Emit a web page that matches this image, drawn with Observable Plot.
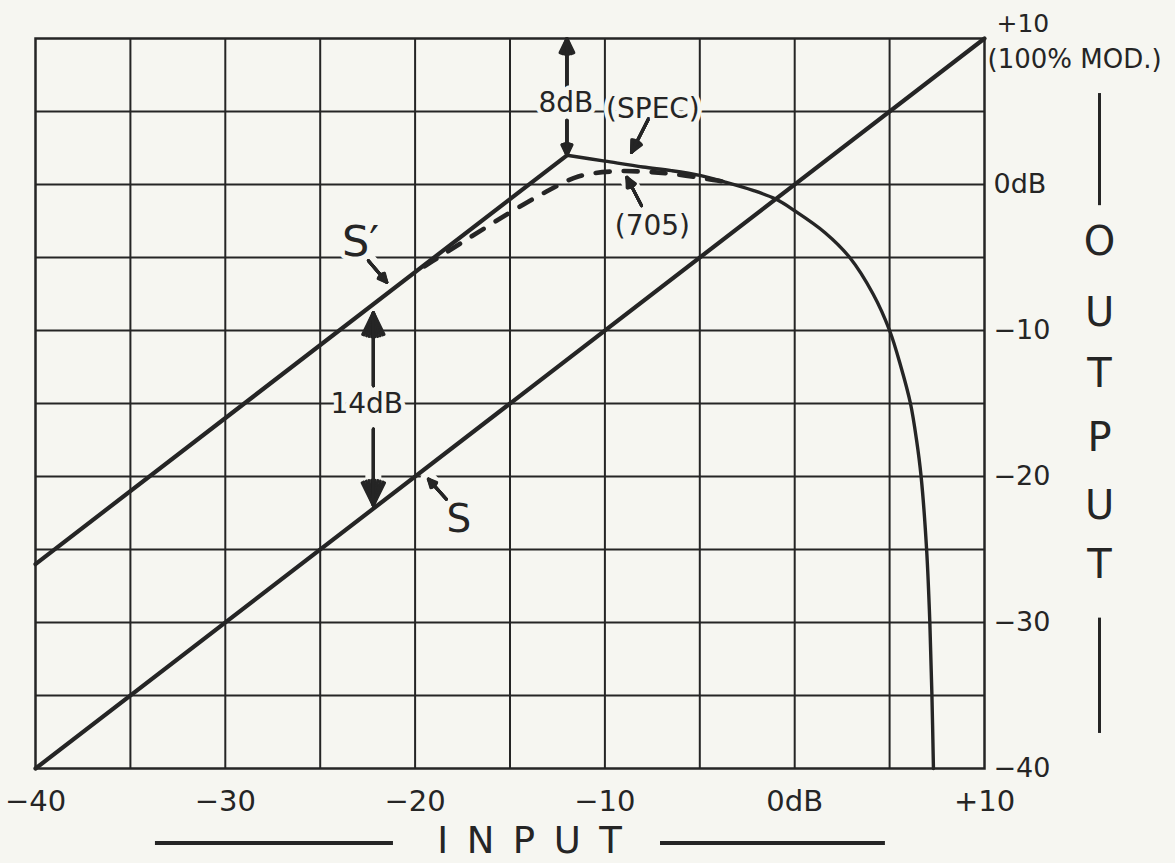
<!DOCTYPE html>
<html>
<head>
<meta charset="utf-8">
<script src="https://cdn.jsdelivr.net/npm/d3@7"></script>
<script src="https://cdn.jsdelivr.net/npm/@observablehq/plot@0.6"></script>
<style>
  html, body { margin: 0; padding: 0; background: #f6f6f1; }
</style>
</head>
<body>
<div id="chart"></div>
<script>
// ---------------- data ----------------
const xTicks = [-40, -30, -20, -10, 0, 10];
const xTickLabels = ["−40", "−30", "−20", "−10", "0dB", "+10"];
const yTicks = [-40, -30, -20, -10, 0];
const yTickLabels = ["−40", "−30", "−20", "−10", "0dB"];
const topLabels = ["+10", "(100% MOD.)"];
const topLabelY = [10.96, 8.56];
const gridX = [-35, -30, -25, -20, -15, -10, -5, 0, 5];
const gridY = [-35, -30, -25, -20, -15, -10, -5, 0, 5];

// S : linear transfer
const sInput = [-40, 10];
const sOutput = [-40, 10];
// S' : +14 dB line up to the knee
const sPrimeInput = [-40, -12];
const sPrimeOutput = [-26, 2];
// (SPEC) limiting curve
const specInput  = [-12, -10, -8, -6.5, -5, -3.7, -2.2, -1, 0, 1.6, 2.9, 4.13, 5, 5.6, 6.1, 6.42, 6.66, 6.95, 7.12, 7.23, 7.31];
const specOutput = [2, 1.6, 1.2, 0.95, 0.62, 0.18, -0.4, -1, -1.8, -3.3, -5, -7.5, -10, -12.5, -15, -17.5, -20, -25, -30, -35, -40];
// (705) dashed curve
const dashInput  = [-19.5, -18.9, -17.2, -15.1, -13.1, -11.4, -9.5, -7.8, -6.3, -4.6, -3.7];
const dashOutput = [-5.6, -5.1, -3.7, -2.0, -0.5, 0.55, 0.9, 0.87, 0.7, 0.38, 0.18];

// annotation arrows (data units): tail -> tip
const arrowX1 = [-12, -12, -7.7, -8.07, -22.46, -22.2, -22.2, -18.35];
const arrowY1 = [6.75, 4.4, 4.5, -1.45, -5.22, -13.78, -16.75, -21.55];
const arrowX2 = [-12, -12, -8.6, -8.84, -21.49, -22.2, -22.2, -19.3];
const arrowY2 = [10, 2.0, 2.2, 0.49, -6.70, -8.76, -22.0, -20.18];

// annotation labels (data units)
const noteText = ["8dB", "(SPEC)", "(705)", "14dB"];
const noteX = [-12.06, -7.47, -7.5, -22.55];
const noteY = [5.61, 5.2, -2.82, -15.04];
const curveNames = ["S′", "S"];
const curveNameX = [-23.85, -17.7];
const curveNameY = [-3.98, -22.97];

// axis titles
const outputLetters = ["O", "U", "T", "P", "U", "T"];
const outputLetterY = [-3.98, -8.78, -12.96, -17.4, -22.0, -26.1];
const outputX = 16.06;
const outputBarY1 = [6.23, -29.7];
const outputBarY2 = [-1.45, -37.6];
const inputTitleX = -13.97;
const inputTitleY = -45.0;
const inputBarX1 = [-33.68, -7.07];
const inputBarX2 = [-21.14, 4.78];

// ---------------- build ----------------
const ink = "#252525";
const paper = "#f6f6f1";
const font = "DejaVu Sans";
const pts = (xs, ys) => xs.map((x, i) => ({x, y: ys[i]}));

const arrows = arrowX1.map((x1, i) => ({x1, y1: arrowY1[i], x2: arrowX2[i], y2: arrowY2[i]}));
const notes = noteText.map((t, i) => ({t, x: noteX[i], y: noteY[i]}));
const names = curveNames.map((t, i) => ({t, x: curveNameX[i], y: curveNameY[i]}));
const outLetters = outputLetters.map((t, i) => ({t, y: outputLetterY[i]}));
const outBars = outputBarY1.map((y1, i) => ({y1, y2: outputBarY2[i]}));
const inBars = inputBarX1.map((x1, i) => ({x1, x2: inputBarX2[i]}));
const tops = topLabels.map((t, i) => ({t, y: topLabelY[i]}));

const haloText = (data, opts) => [
  Plot.text(data, {...opts, fill: paper, stroke: paper, strokeWidth: 9}),
  Plot.text(data, {...opts, fill: ink})
];

const chart = Plot.plot({
  width: 1175,
  height: 863,
  marginLeft: 35,
  marginRight: 191,
  marginTop: 38,
  marginBottom: 95,
  x: {domain: [-40, 10], axis: null},
  y: {domain: [-40, 10], axis: null},
  style: {background: paper, color: ink, fontFamily: font, overflow: "visible"},
  marks: [
    Plot.ruleX(gridX, {stroke: ink, strokeWidth: 2}),
    Plot.ruleY(gridY, {stroke: ink, strokeWidth: 2}),
    // drafting gaps around arrows
    Plot.arrow(arrows, {x1: "x1", y1: "y1", x2: "x2", y2: "y2", stroke: paper, strokeWidth: 16, headLength: 0}),
    Plot.frame({stroke: ink, strokeWidth: 2.5}),
    Plot.line(pts(sInput, sOutput), {x: "x", y: "y", stroke: ink, strokeWidth: 4.2}),
    Plot.line(pts(sPrimeInput, sPrimeOutput), {x: "x", y: "y", stroke: ink, strokeWidth: 4.2}),
    Plot.line(pts(specInput, specOutput), {x: "x", y: "y", stroke: ink, strokeWidth: 3.4, curve: "catmull-rom"}),
    Plot.line(pts(dashInput, dashOutput), {x: "x", y: "y", stroke: ink, strokeWidth: 4.6, curve: "catmull-rom", strokeDasharray: "14,14", strokeLinecap: "round"}),
    ...[8, 20, 32, 44, 52].map(a =>
      Plot.arrow(arrows, {x1: "x1", y1: "y1", x2: "x2", y2: "y2", stroke: ink, strokeWidth: 3, headLength: 16, headAngle: a})
    ),
    // tick labels
    Plot.text(xTicks, {x: d => d, y: () => -40, dy: 33, text: (d, i) => xTickLabels[i], fontSize: 29, fill: ink}),
    Plot.text(yTicks, {x: () => 10, y: d => d, dx: 9, text: (d, i) => yTickLabels[i], textAnchor: "start", fontSize: 27, fill: ink}),
    Plot.text(tops.slice(0, 1), {x: () => 10, y: "y", dx: 12, text: "t", textAnchor: "start", fontSize: 25, fill: ink}),
    Plot.text(tops.slice(1), {x: () => 10, y: "y", dx: 3, text: "t", textAnchor: "start", fontSize: 26, fill: ink}),
    // annotations
    ...haloText(notes, {x: "x", y: "y", text: "t", fontSize: 28}),
    ...haloText(names.slice(0, 1), {x: "x", y: "y", text: "t", fontSize: 43, textAnchor: "start"}),
    ...haloText(names.slice(1), {x: "x", y: "y", text: "t", fontSize: 39}),
    // OUTPUT title
    Plot.text(outLetters, {x: () => outputX, y: "y", text: "t", fontSize: 40, fill: ink}),
    Plot.ruleX(outBars, {x: () => outputX, y1: "y1", y2: "y2", stroke: ink, strokeWidth: 3}),
    // INPUT title
    Plot.text(["I\u2002N\u2002P\u2002U\u2002T"], {x: () => inputTitleX, y: () => inputTitleY, text: d => d, fontSize: 37, fill: ink}),
    Plot.ruleY(inBars, {y: () => inputTitleY - 0.1, x1: "x1", x2: "x2", stroke: ink, strokeWidth: 4})
  ]
});

document.getElementById("chart").appendChild(chart);
</script>
</body>
</html>
